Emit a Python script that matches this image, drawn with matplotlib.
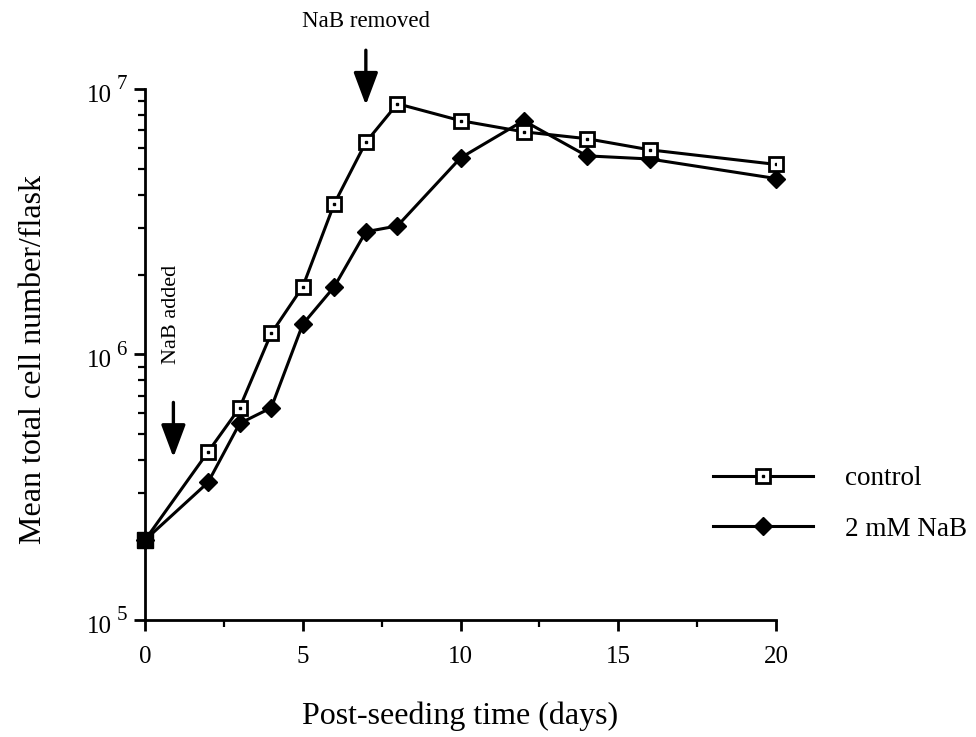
import numpy as np
import matplotlib
matplotlib.use("Agg")
import matplotlib.pyplot as plt
import matplotlib.transforms as mtransforms
from matplotlib.ticker import FixedLocator, LogLocator, NullFormatter
from matplotlib.legend_handler import HandlerTuple

plt.rcParams['font.family'] = ['Liberation Serif', 'DejaVu Serif']

# data
days_control = [0, 2, 3, 4, 5, 6, 7, 8, 10, 12, 14, 16, 20]
control = [2.0e5, 4.3e5, 6.3e5, 1.2e6, 1.8e6, 3.7e6, 6.3e6, 8.8e6,
           7.6e6, 6.9e6, 6.5e6, 5.9e6, 5.2e6]

days_nab = [0, 2, 3, 4, 5, 6, 7, 8, 10, 12, 14, 16, 20]
nab = [2.0e5, 3.3e5, 5.5e5, 6.3e5, 1.3e6, 1.8e6, 2.9e6, 3.05e6,
       5.5e6, 7.6e6, 5.6e6, 5.45e6, 4.6e6]

x_ticks = [0, 5, 10, 15, 20]
y_ticks = [1e5, 1e6, 1e7]


fig = plt.figure(figsize=(9.76, 7.37), dpi=100)
ax = fig.add_axes([145 / 976, 1 - 620 / 737, 631 / 976, 531 / 737])

lw = 2.2
l_nab, = ax.plot(days_nab, nab, color='black', lw=lw, marker='D', ms=9,
                 mfc='black', mec='black', clip_on=False, zorder=3)
l_ctl, = ax.plot(days_control, control, color='black', lw=lw, marker='s', ms=10,
                 mfc='white', mec='black', mew=2.0, clip_on=False, zorder=4)
l_dot, = ax.plot(days_control[1:], control[1:], ls='none', marker='s', ms=2,
                 mfc='black', mec='black', zorder=5)
# the first point is shared and drawn solid
ax.plot(days_control[:1], control[:1], ls='none', marker='s', ms=11,
        color='black', clip_on=False, zorder=6)

ax.set_yscale('log')
ax.set_xlim(0, 20)
ax.set_ylim(1e5, 1e7)

ax.xaxis.set_major_locator(FixedLocator(x_ticks))
ax.xaxis.set_minor_locator(FixedLocator([2.5, 7.5, 12.5, 17.5]))
ax.yaxis.set_major_locator(FixedLocator(y_ticks))
ax.yaxis.set_major_formatter(NullFormatter())
ax.yaxis.set_minor_locator(LogLocator(base=10, subs=np.arange(2, 10)))
ax.yaxis.set_minor_formatter(NullFormatter())

# y tick labels as "10" with a big exponent, like the old print
ytrans = mtransforms.blended_transform_factory(ax.transAxes, ax.transData)
for v in y_ticks:
  ax.annotate('10', xy=(0, v), xycoords=ytrans, xytext=(-24, -5),
              textcoords='offset points', ha='right', va='center', fontsize=18)
  ax.annotate('%d' % int(round(np.log10(v))), xy=(0, v), xycoords=ytrans,
              xytext=(-13, 3), textcoords='offset points', ha='right',
              va='center', fontsize=15)

for s in ['top', 'right']:
  ax.spines[s].set_visible(False)
for s in ['left', 'bottom']:
  ax.spines[s].set_linewidth(2.0)

ax.tick_params(axis='both', which='major', direction='out', length=8, width=2,
               labelsize=18)
ax.tick_params(axis='x', which='major', pad=11)
ax.tick_params(axis='both', which='minor', direction='out', length=5, width=1.6)

ax.set_xlabel('Post-seeding time (days)', fontsize=23, labelpad=24)
ax.set_ylabel('Mean total cell number/flask', fontsize=23, labelpad=0)
ax.yaxis.set_label_coords(-97 / 631, 0.49)

# annotations
arrow = dict(arrowstyle='-|>,head_length=2.0,head_width=0.75',
             color='black', lw=2.4, shrinkA=0, shrinkB=0)
ax.annotate('', xy=(7.0, 8.7e6), xytext=(7.0, 1.4e7),
            arrowprops=arrow, annotation_clip=False)
ax.text(7.0, 1.8e7, 'NaB removed', ha='center', va='center', fontsize=16.5)

ax.annotate('', xy=(0.9, 4.1e5), xytext=(0.9, 6.6e5), arrowprops=arrow)
ax.text(0.85, 1.41e6, 'NaB added', rotation=90, ha='center', va='center', fontsize=16)

ax.legend([(l_ctl, l_dot), l_nab], ['control', '2 mM NaB'],
          handler_map={tuple: HandlerTuple(ndivide=1, pad=0)},
          loc='center left', bbox_to_anchor=(713 / 976, 1 - 504 / 737),
          bbox_transform=fig.transFigure, frameon=False, fontsize=19.5,
          handlelength=3.7, handletextpad=1.18, labelspacing=0.93,
          borderpad=0, borderaxespad=0)

fig.savefig('out.png', dpi=100)
